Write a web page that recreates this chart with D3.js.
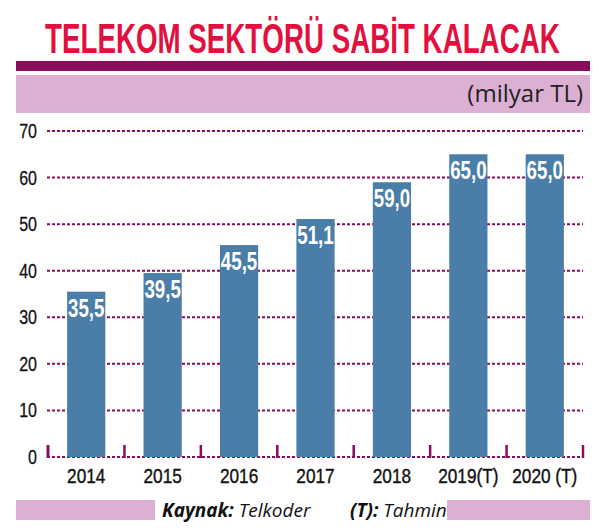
<!DOCTYPE html>
<html>
<head>
<meta charset="utf-8">
<script src="https://cdn.jsdelivr.net/npm/d3@7"></script>
<style>
  body { margin: 0; background: #fff; }
  .cond { font-family: "Liberation Sans", Arial, sans-serif; }
</style>
</head>
<body>
<div id="chart"></div>
<script>
// data
const years = ["2014", "2015", "2016", "2017", "2018", "2019(T)", "2020 (T)"];
const values = [35.5, 39.5, 45.5, 51.1, 59.0, 65.0, 65.0];
const yTicks = [0, 10, 20, 30, 40, 50, 60, 70];

const width = 599, height = 531;
const purple = "#8a0c5c", pink = "#dcb0d2", barColor = "#4a7ea8";

const svg = d3.select("#chart").append("svg")
  .attr("width", width)
  .attr("height", height);

svg.append("rect").attr("width", width).attr("height", height).attr("fill", "#fff");

// title - squeeze to the width of the original
let title = svg.append("text")
  .attr("class", "cond")
  .style("font-size", "43px")
  .style("font-weight", "bold")
  .style("fill", "#e2103e")
  .text("TELEKOM SEKTÖRÜ SABİT KALACAK");
let titleLen = title.node().getComputedTextLength();
title.attr("transform", `translate(45, 53) scale(${515 / titleLen}, 1)`);

// header bars
svg.append("rect").attr("x", 16).attr("y", 61).attr("width", 574).attr("height", 10).attr("fill", purple);
svg.append("rect").attr("x", 16).attr("y", 75).attr("width", 574).attr("height", 38).attr("fill", pink);

svg.append("text")
  .attr("x", 583)
  .attr("y", 102)
  .attr("text-anchor", "end")
  .style("font-family", "'Open Sans', sans-serif")
  .style("font-size", "24px")
  .style("fill", "#222")
  .text("(milyar TL)");

// scales
let x = d3.scaleBand()
  .domain(years)
  .range([48, 583])
  .paddingInner(0.5)
  .paddingOuter(0.25);

let y = d3.scaleLinear()
  .domain([0, 70])
  .range([457, 131]);

// gridlines
svg.append("g")
  .selectAll("line")
  .data(yTicks)
  .enter()
  .append("line")
  .attr("x1", 47)
  .attr("x2", 583)
  .attr("y1", d => y(d))
  .attr("y2", d => y(d))
  .attr("stroke", purple)
  .attr("stroke-width", 2)
  .attr("stroke-dasharray", "3,2");

// y labels (narrowed)
svg.append("g")
  .selectAll("text")
  .data(yTicks)
  .enter()
  .append("text")
  .attr("class", "cond")
  .attr("transform", d => `translate(37, ${y(d) + 7}) scale(0.8, 1)`)
  .attr("text-anchor", "end")
  .style("font-size", "20px")
  .style("fill", "#111")
  .style("stroke", "#111")
  .style("stroke-width", 0.3)
  .text(d => d);

// tick marks at base, on band edges
let step = x.step();
let edges = d3.range(years.length + 1).map(i => x(years[0]) - step * 0.25 + i * step);
svg.append("g")
  .selectAll("line")
  .data(edges)
  .enter()
  .append("line")
  .attr("x1", d => d)
  .attr("x2", d => d)
  .attr("y1", y(0) - 12)
  .attr("y2", y(0) + 1)
  .attr("stroke", purple)
  .attr("stroke-width", (d, i) => i == 0 ? 3 : 2.5);

// bars
svg.selectAll("rect.bar")
  .data(values)
  .enter()
  .append("rect")
  .attr("class", "bar")
  .attr("x", (d, i) => x(years[i]))
  .attr("width", x.bandwidth())
  .attr("y", d => y(d))
  .attr("height", d => y(0) - y(d))
  .attr("fill", barColor);

// bar value labels
svg.selectAll("text.valueLabel")
  .data(values)
  .enter()
  .append("text")
  .attr("class", "valueLabel cond")
  .attr("transform", (d, i) => `translate(${x(years[i]) + x.bandwidth() / 2}, ${y(d) + 25}) scale(0.72, 1)`)
  .attr("text-anchor", "middle")
  .style("font-size", "26px")
  .style("font-weight", "bold")
  .style("fill", "#fff")
  .text(d => d3.format(".1f")(d).replace(".", ","));

// x labels
svg.selectAll("text.xLabel")
  .data(years)
  .enter()
  .append("text")
  .attr("class", "xLabel cond")
  .attr("transform", d => `translate(${x(d) + x.bandwidth() / 2}, 483) scale(0.82, 1)`)
  .attr("text-anchor", "middle")
  .style("font-size", "21px")
  .style("fill", "#111")
  .style("stroke", "#111")
  .style("stroke-width", 0.4)
  .text(d => d);

// footer
svg.append("rect").attr("x", 16).attr("y", 500).attr("width", 574).attr("height", 20).attr("fill", pink);
svg.append("rect").attr("x", 155).attr("y", 500).attr("width", 292).attr("height", 20).attr("fill", "#fff");

let foot = svg.append("text")
  .attr("x", 162)
  .attr("y", 517)
  .style("font-family", "'Open Sans', sans-serif")
  .style("font-size", "19px")
  .style("font-style", "italic")
  .style("fill", "#111");
foot.append("tspan").style("font-weight", "bold").text("Kaynak:");
foot.append("tspan").text(" Telkoder");
foot.append("tspan").attr("x", 350).style("font-weight", "bold").text("(T):");
foot.append("tspan").text(" Tahmin");
</script>
</body>
</html>
